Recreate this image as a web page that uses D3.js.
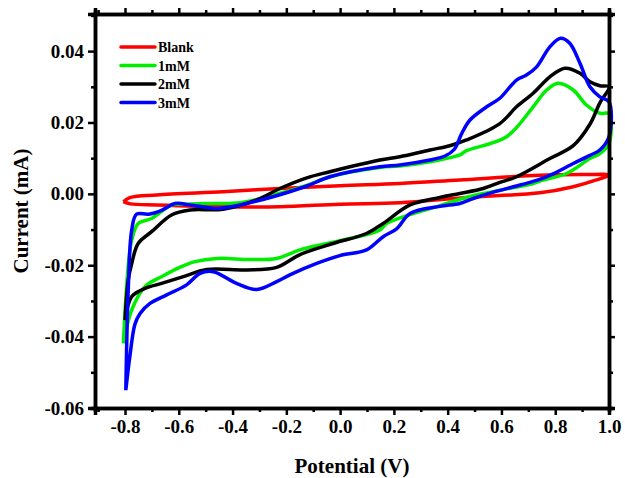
<!DOCTYPE html>
<html>
<head>
<meta charset="utf-8">
<script src="https://cdn.jsdelivr.net/npm/d3@7"></script>
<style>
  body { margin: 0; background: #fff; }
  text { font-family: "Liberation Serif", "Times New Roman", serif; font-weight: bold; }
</style>
</head>
<body>
<div id="chart"></div>
<script>
// series names and colours
let seriesNames = ["Blank", "1mM", "2mM", "3mM"];
let seriesColors = ["#ff0000", "#00ee00", "#000000", "#0000ff"];

// each loop: [potential (V), current (mA)], forward scan then reverse scan
let blank = [
  [-0.806, -0.0022], [-0.78, -0.001], [-0.682, -0.0003], [-0.435, 0.0006], [-0.224, 0.0015],
  [0, 0.0023], [0.222, 0.0029], [0.445, 0.0039], [0.743, 0.0052], [0.9, 0.0054], [1.0, 0.0053],
  [0.953, 0.0039], [0.867, 0.002], [0.743, 0.0003], [0.47, -0.001], [0.222, -0.0025],
  [0, -0.0029], [-0.224, -0.0036], [-0.435, -0.0036], [-0.682, -0.0031], [-0.78, -0.0028], [-0.806, -0.0022]
];
let mM1 = [
  [-0.806, -0.0419], [-0.79, -0.022], [-0.775, -0.0129], [-0.751, -0.0083], [-0.701, -0.0069],
  [-0.627, -0.0031], [-0.596, -0.0029], [-0.496, -0.0027], [-0.372, -0.0025], [-0.249, -0.0003],
  [-0.124, 0.0024], [-0.038, 0.0048], [0.148, 0.0074], [0.222, 0.0078], [0.334, 0.009],
  [0.445, 0.0109], [0.47, 0.0121], [0.619, 0.016], [0.718, 0.0244], [0.768, 0.0291],
  [0.811, 0.031], [0.867, 0.0291], [0.916, 0.0249], [0.966, 0.0226], [1.0, 0.0224],
  [1.0, 0.0141], [0.966, 0.0113], [0.929, 0.0099], [0.842, 0.0057], [0.743, 0.0036],
  [0.718, 0.0029], [0.532, 0.0001], [0.445, -0.0015], [0.371, -0.0033], [0.26, -0.0058],
  [0.173, -0.0083], [0.148, -0.0101], [0.037, -0.0125], [-0.087, -0.0145], [-0.149, -0.0157],
  [-0.236, -0.0181], [-0.335, -0.0184], [-0.459, -0.0181], [-0.54, -0.019], [-0.596, -0.0206],
  [-0.664, -0.0232], [-0.726, -0.026], [-0.775, -0.0325], [-0.806, -0.0419]
];
let mM2 = [
  [-0.8, -0.0354], [-0.788, -0.0241], [-0.775, -0.0195], [-0.751, -0.0139], [-0.701, -0.0106],
  [-0.627, -0.0059], [-0.558, -0.0045], [-0.435, -0.0043], [-0.31, -0.0017], [-0.224, 0.0015],
  [-0.124, 0.0045], [-0.038, 0.0062], [0.148, 0.0095], [0.222, 0.0104], [0.334, 0.0123],
  [0.408, 0.0135], [0.47, 0.0151], [0.594, 0.0197], [0.656, 0.0244], [0.718, 0.0282],
  [0.78, 0.0328], [0.836, 0.0352], [0.892, 0.0338], [0.929, 0.0314], [0.966, 0.0303], [1.0, 0.03],
  [0.966, 0.0255], [0.929, 0.0195], [0.867, 0.0135], [0.78, 0.0099], [0.656, 0.0048],
  [0.594, 0.0032], [0.532, 0.0015], [0.445, 0.0001], [0.371, -0.001], [0.26, -0.0031],
  [0.16, -0.0083], [0.098, -0.0111], [-0.026, -0.0139], [-0.149, -0.017], [-0.236, -0.0206],
  [-0.348, -0.0213], [-0.496, -0.0212], [-0.583, -0.0232], [-0.664, -0.0251], [-0.726, -0.0265],
  [-0.775, -0.0288], [-0.8, -0.0354]
];
let mM3 = [
  [-0.797, -0.055], [-0.788, -0.027], [-0.775, -0.0101], [-0.757, -0.0057], [-0.713, -0.0057],
  [-0.664, -0.0046], [-0.614, -0.0027], [-0.558, -0.0031], [-0.495, -0.0038], [-0.458, -0.0041],
  [-0.372, -0.0031], [-0.25, -0.0008], [-0.124, 0.0022], [-0.038, 0.0048], [0.148, 0.0076],
  [0.222, 0.0081], [0.334, 0.0095], [0.39, 0.0106], [0.425, 0.0125], [0.452, 0.0169],
  [0.483, 0.0207], [0.545, 0.0244], [0.594, 0.0268], [0.656, 0.0319], [0.693, 0.0333],
  [0.731, 0.0356], [0.78, 0.0412], [0.82, 0.0436], [0.854, 0.0422], [0.892, 0.0366],
  [0.929, 0.03], [0.966, 0.0272], [1.0, 0.0258],
  [1.0, 0.016], [0.966, 0.0123], [0.929, 0.0108], [0.867, 0.0085], [0.78, 0.0052],
  [0.718, 0.0035], [0.656, 0.0022], [0.57, 0.0005], [0.495, -0.0013], [0.445, -0.0027],
  [0.371, -0.0035], [0.26, -0.0055], [0.21, -0.0098], [0.16, -0.012], [0.098, -0.0157],
  [-0.001, -0.0173], [-0.087, -0.0195], [-0.187, -0.0227], [-0.236, -0.0246], [-0.31, -0.0268],
  [-0.385, -0.0251], [-0.472, -0.0218], [-0.521, -0.0223], [-0.571, -0.0255], [-0.645, -0.0283],
  [-0.707, -0.0307], [-0.744, -0.0335], [-0.763, -0.0365], [-0.781, -0.045], [-0.797, -0.055]
];
let seriesData = [blank, mM1, mM2, mM3];

// tick values
let xMajor = [-0.8, -0.6, -0.4, -0.2, 0.0, 0.2, 0.4, 0.6, 0.8, 1.0];
let xMinor = [-0.9, -0.7, -0.5, -0.3, -0.1, 0.1, 0.3, 0.5, 0.7, 0.9];
let yMajor = [-0.06, -0.04, -0.02, 0.0, 0.02, 0.04];
let yMinor = [-0.05, -0.03, -0.01, 0.01, 0.03, 0.05];

let width = 625;
let height = 478;
let margin = { top: 14, right: 16, bottom: 70, left: 95 };

let svg = d3.select("#chart").append("svg")
  .attr("width", width)
  .attr("height", height);

let xScale = d3.scaleLinear()
  .domain([-0.9116, 1.0])
  .range([margin.left, width - margin.right]);
let yScale = d3.scaleLinear()
  .domain([-0.06, 0.0504])
  .range([height - margin.bottom, margin.top]);

// curves (drawn first so the frame sits on top)
let line = d3.line()
  .x(d => xScale(d[0]))
  .y(d => yScale(d[1]))
  .curve(d3.curveCatmullRom.alpha(0.5));

let plot = svg.append("g");
seriesData.forEach((s, i) => {
  plot.append("path")
    .datum(s)
    .attr("fill", "none")
    .attr("stroke", seriesColors[i])
    .attr("stroke-width", 3.5)
    .attr("stroke-linejoin", "round")
    .attr("d", line);
});

// plain hyphen as minus sign, like the original
let locale = d3.formatLocale({ decimal: ".", thousands: ",", grouping: [3], currency: ["", ""], minus: "-" });
let fmtY = locale.format(".2f");
let fmtX = locale.format(".1f");

function styleAxis(g) {
  g.select(".domain").attr("stroke-width", 3.5).attr("stroke", "#000");
  g.selectAll(".tick line").attr("stroke-width", 2.5).attr("stroke", "#000");
  g.selectAll("text").attr("fill", "#000").style("font-size", "19px");
}

let bottom = height - margin.bottom;
let right = width - margin.right;

// minor ticks first
svg.append("g").attr("transform", `translate(0,${bottom})`)
  .call(d3.axisBottom(xScale).tickValues(xMinor).tickSize(4).tickFormat(""))
  .call(styleAxis);
svg.append("g").attr("transform", `translate(0,${margin.top})`)
  .call(d3.axisTop(xScale).tickValues(xMinor).tickSize(4).tickFormat(""))
  .call(styleAxis);
svg.append("g").attr("transform", `translate(${margin.left},0)`)
  .call(d3.axisLeft(yScale).tickValues(yMinor).tickSize(4).tickFormat(""))
  .call(styleAxis);
svg.append("g").attr("transform", `translate(${right},0)`)
  .call(d3.axisRight(yScale).tickValues(yMinor).tickSize(4).tickFormat(""))
  .call(styleAxis);

// major ticks with labels
svg.append("g").attr("transform", `translate(0,${bottom})`)
  .call(d3.axisBottom(xScale).tickValues(xMajor).tickSize(7).tickPadding(5).tickFormat(fmtX))
  .call(styleAxis);
svg.append("g").attr("transform", `translate(0,${margin.top})`)
  .call(d3.axisTop(xScale).tickValues(xMajor).tickSize(6).tickFormat(""))
  .call(styleAxis);
svg.append("g").attr("transform", `translate(${margin.left},0)`)
  .call(d3.axisLeft(yScale).tickValues(yMajor).tickSize(7).tickPadding(4).tickFormat(fmtY))
  .call(styleAxis);
svg.append("g").attr("transform", `translate(${right},0)`)
  .call(d3.axisRight(yScale).tickValues(yMajor).tickSize(6).tickFormat(""))
  .call(styleAxis);

// axis titles
svg.append("text")
  .attr("x", (margin.left + right) / 2)
  .attr("y", 473)
  .attr("text-anchor", "middle")
  .style("font-size", "21px")
  .text("Potential (V)");
svg.append("text")
  .attr("transform", `translate(28,${(margin.top + bottom) / 2}) rotate(-90)`)
  .attr("text-anchor", "middle")
  .style("font-size", "21px")
  .text("Current (mA)");

// legend
let legend = svg.append("g").attr("transform", "translate(121,47)");
seriesNames.forEach((name, i) => {
  let row = legend.append("g").attr("transform", `translate(0,${i * 18.5})`);
  row.append("line")
    .attr("x1", 0).attr("x2", 34)
    .attr("stroke", seriesColors[i])
    .attr("stroke-width", 3.5)
    .attr("stroke-linecap", "round");
  row.append("text")
    .attr("x", 37).attr("y", 5)
    .style("font-size", "14px")
    .text(name);
});
</script>
</body>
</html>
